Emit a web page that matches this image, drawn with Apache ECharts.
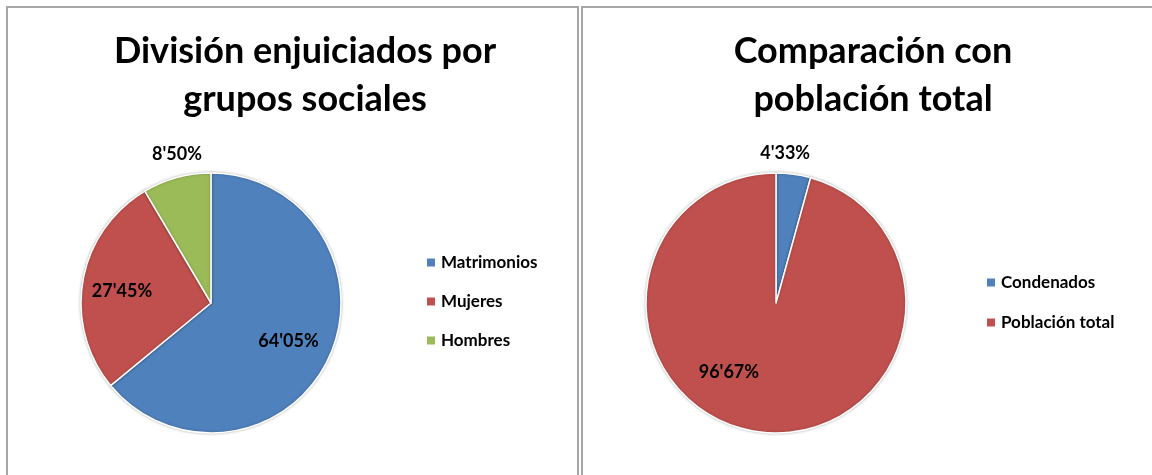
<!DOCTYPE html>
<html>
<head>
<meta charset="utf-8">
<script src="https://cdn.jsdelivr.net/npm/echarts@6/dist/echarts.min.js"></script>
<style>
html,body{margin:0;padding:0;background:#fff;}
#chart{width:1152px;height:475px;}
</style>
</head>
<body>
<div id="chart"></div>
<script>
// ---- data ----
const leftTitle = 'División enjuiciados por\ngrupos sociales';
const leftCategories = ['Matrimonios', 'Mujeres', 'Hombres'];
const leftValues = [64.05, 27.45, 8.50];

const rightTitle = 'Comparación con\npoblación total';
const rightCategories = ['Condenados', 'Población total'];
const rightValues = [4.33, 96.67];

const colors = ['#4F81BD', '#C0504D', '#9BBB59'];

// label offsets (style) relative to the library's inside position
const leftLabelShift = [[16, 9], [-22, 0], [-16, -83]];
const rightLabelShift = [[0, -82], [-38, 2]];

const FONT = 'Lato, "Open Sans", sans-serif';

function fmt(p) {
  return p.value.toFixed(2).replace('.', "'") + '%';
}

function pieSeries(cats, vals, center, shifts) {
  return {
    type: 'pie',
    center: center,
    radius: 130,
    startAngle: 90,
    clockwise: true,
    data: cats.map((c, i) => ({ name: c, value: vals[i], itemStyle: { color: colors[i] } })),
    itemStyle: {
      borderColor: '#ffffff',
      borderWidth: 1.5,
      shadowBlur: 3,
      shadowColor: 'rgba(0,0,0,0.25)'
    },
    label: {
      show: true,
      position: 'inside',
      formatter: fmt,
      color: '#000',
      fontFamily: FONT,
      fontWeight: 'bold',
      fontSize: 18
    },
    labelLine: { show: false },
    labelLayout: function (params) {
      const s = shifts[params.dataIndex];
      return { dx: s[0], dy: s[1] };
    },
    emphasis: { disabled: true },
    silent: true,
    animation: false
  };
}

const chart = echarts.init(document.getElementById('chart'), null, { renderer: 'canvas' });

const legendText = { fontFamily: FONT, fontSize: 17, fontWeight: 'bold', color: '#000' };

chart.setOption({
  backgroundColor: '#ffffff',
  animation: false,
  title: [
    {
      text: leftTitle,
      left: 300,
      top: 22,
      textAlign: 'center',
      textStyle: { fontFamily: FONT, fontWeight: 'bold', fontSize: 36, lineHeight: 48, color: '#000' }
    },
    {
      text: rightTitle,
      left: 868,
      top: 22,
      textAlign: 'center',
      textStyle: { fontFamily: FONT, fontWeight: 'bold', fontSize: 36, lineHeight: 48, color: '#000' }
    }
  ],
  legend: [
    {
      data: leftCategories,
      orient: 'vertical',
      left: 420,
      top: 249,
      itemWidth: 10,
      itemHeight: 10,
      itemGap: 22,
      icon: 'rect',
      selectedMode: false,
      textStyle: legendText
    },
    {
      data: rightCategories,
      orient: 'vertical',
      left: 980,
      top: 269,
      itemWidth: 10,
      itemHeight: 10,
      itemGap: 23,
      icon: 'rect',
      selectedMode: false,
      textStyle: legendText
    }
  ],
  graphic: [
    { type: 'rect', shape: { x: 7, y: 7, width: 571, height: 480 }, style: { fill: 'none', stroke: '#a6a6a6', lineWidth: 2 }, z: -1 },
    { type: 'rect', shape: { x: 582, y: 7, width: 580, height: 480 }, style: { fill: 'none', stroke: '#a6a6a6', lineWidth: 2 }, z: -1 }
  ],
  series: [
    pieSeries(leftCategories, leftValues, [211, 303], leftLabelShift),
    pieSeries(rightCategories, rightValues, [776, 303], rightLabelShift)
  ]
});
</script>
</body>
</html>
